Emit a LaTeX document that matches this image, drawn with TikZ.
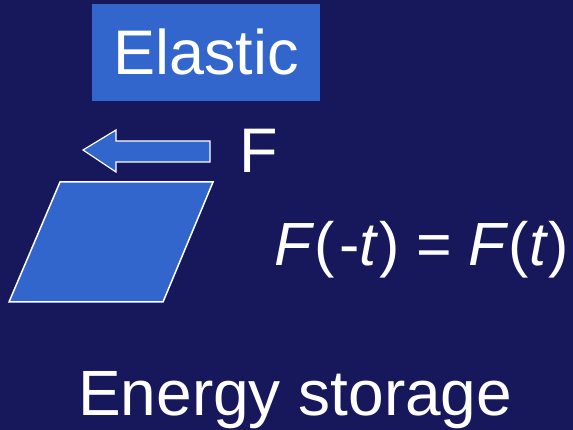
\documentclass[tikz,border=0pt]{standalone}
\usepackage{fontspec}
\setmainfont{Liberation Sans}
\definecolor{bg}{HTML}{17175C}
\definecolor{blk}{HTML}{3366CC}
\tikzset{
  lbl/.style={text=white, inner sep=0pt, anchor=base west},
  shapebox/.style={fill=blk, draw=white, line width=1.5pt, line join=miter}
}
\begin{document}
\begin{tikzpicture}[x=1pt,y=-1pt]
\fill[bg] (0,0) rectangle (573,430);
\useasboundingbox (0,0) rectangle (573,430);
% Elastic box
\fill[blk] (92,4) rectangle (320,101);
\node[lbl, font=\fontsize{63}{70}\selectfont] (elastic) at (113,75) {Elastic};
% arrow
\draw[shapebox, line width=1.2pt] (83,150) -- (116,130) -- (116,141) -- (210,141) -- (210,162) -- (116,162) -- (116,172) -- cycle;
\node[lbl, font=\fontsize{63}{70}\selectfont] (f) at (239,173) {F};
% parallelogram
\draw[shapebox] (60,182) -- (213,182) -- (163,302) -- (9,302) -- cycle;
% formula
\node[lbl, font=\fontsize{61}{70}\selectfont] (formula) at (274,266) {\textit{F}(\kern5pt-\textit{t}) = \textit{F}(\textit{t})};
% energy storage
\node[lbl, font=\fontsize{64}{72}\selectfont] (energy) at (78,415) {Energy storage};
\end{tikzpicture}
\end{document}
